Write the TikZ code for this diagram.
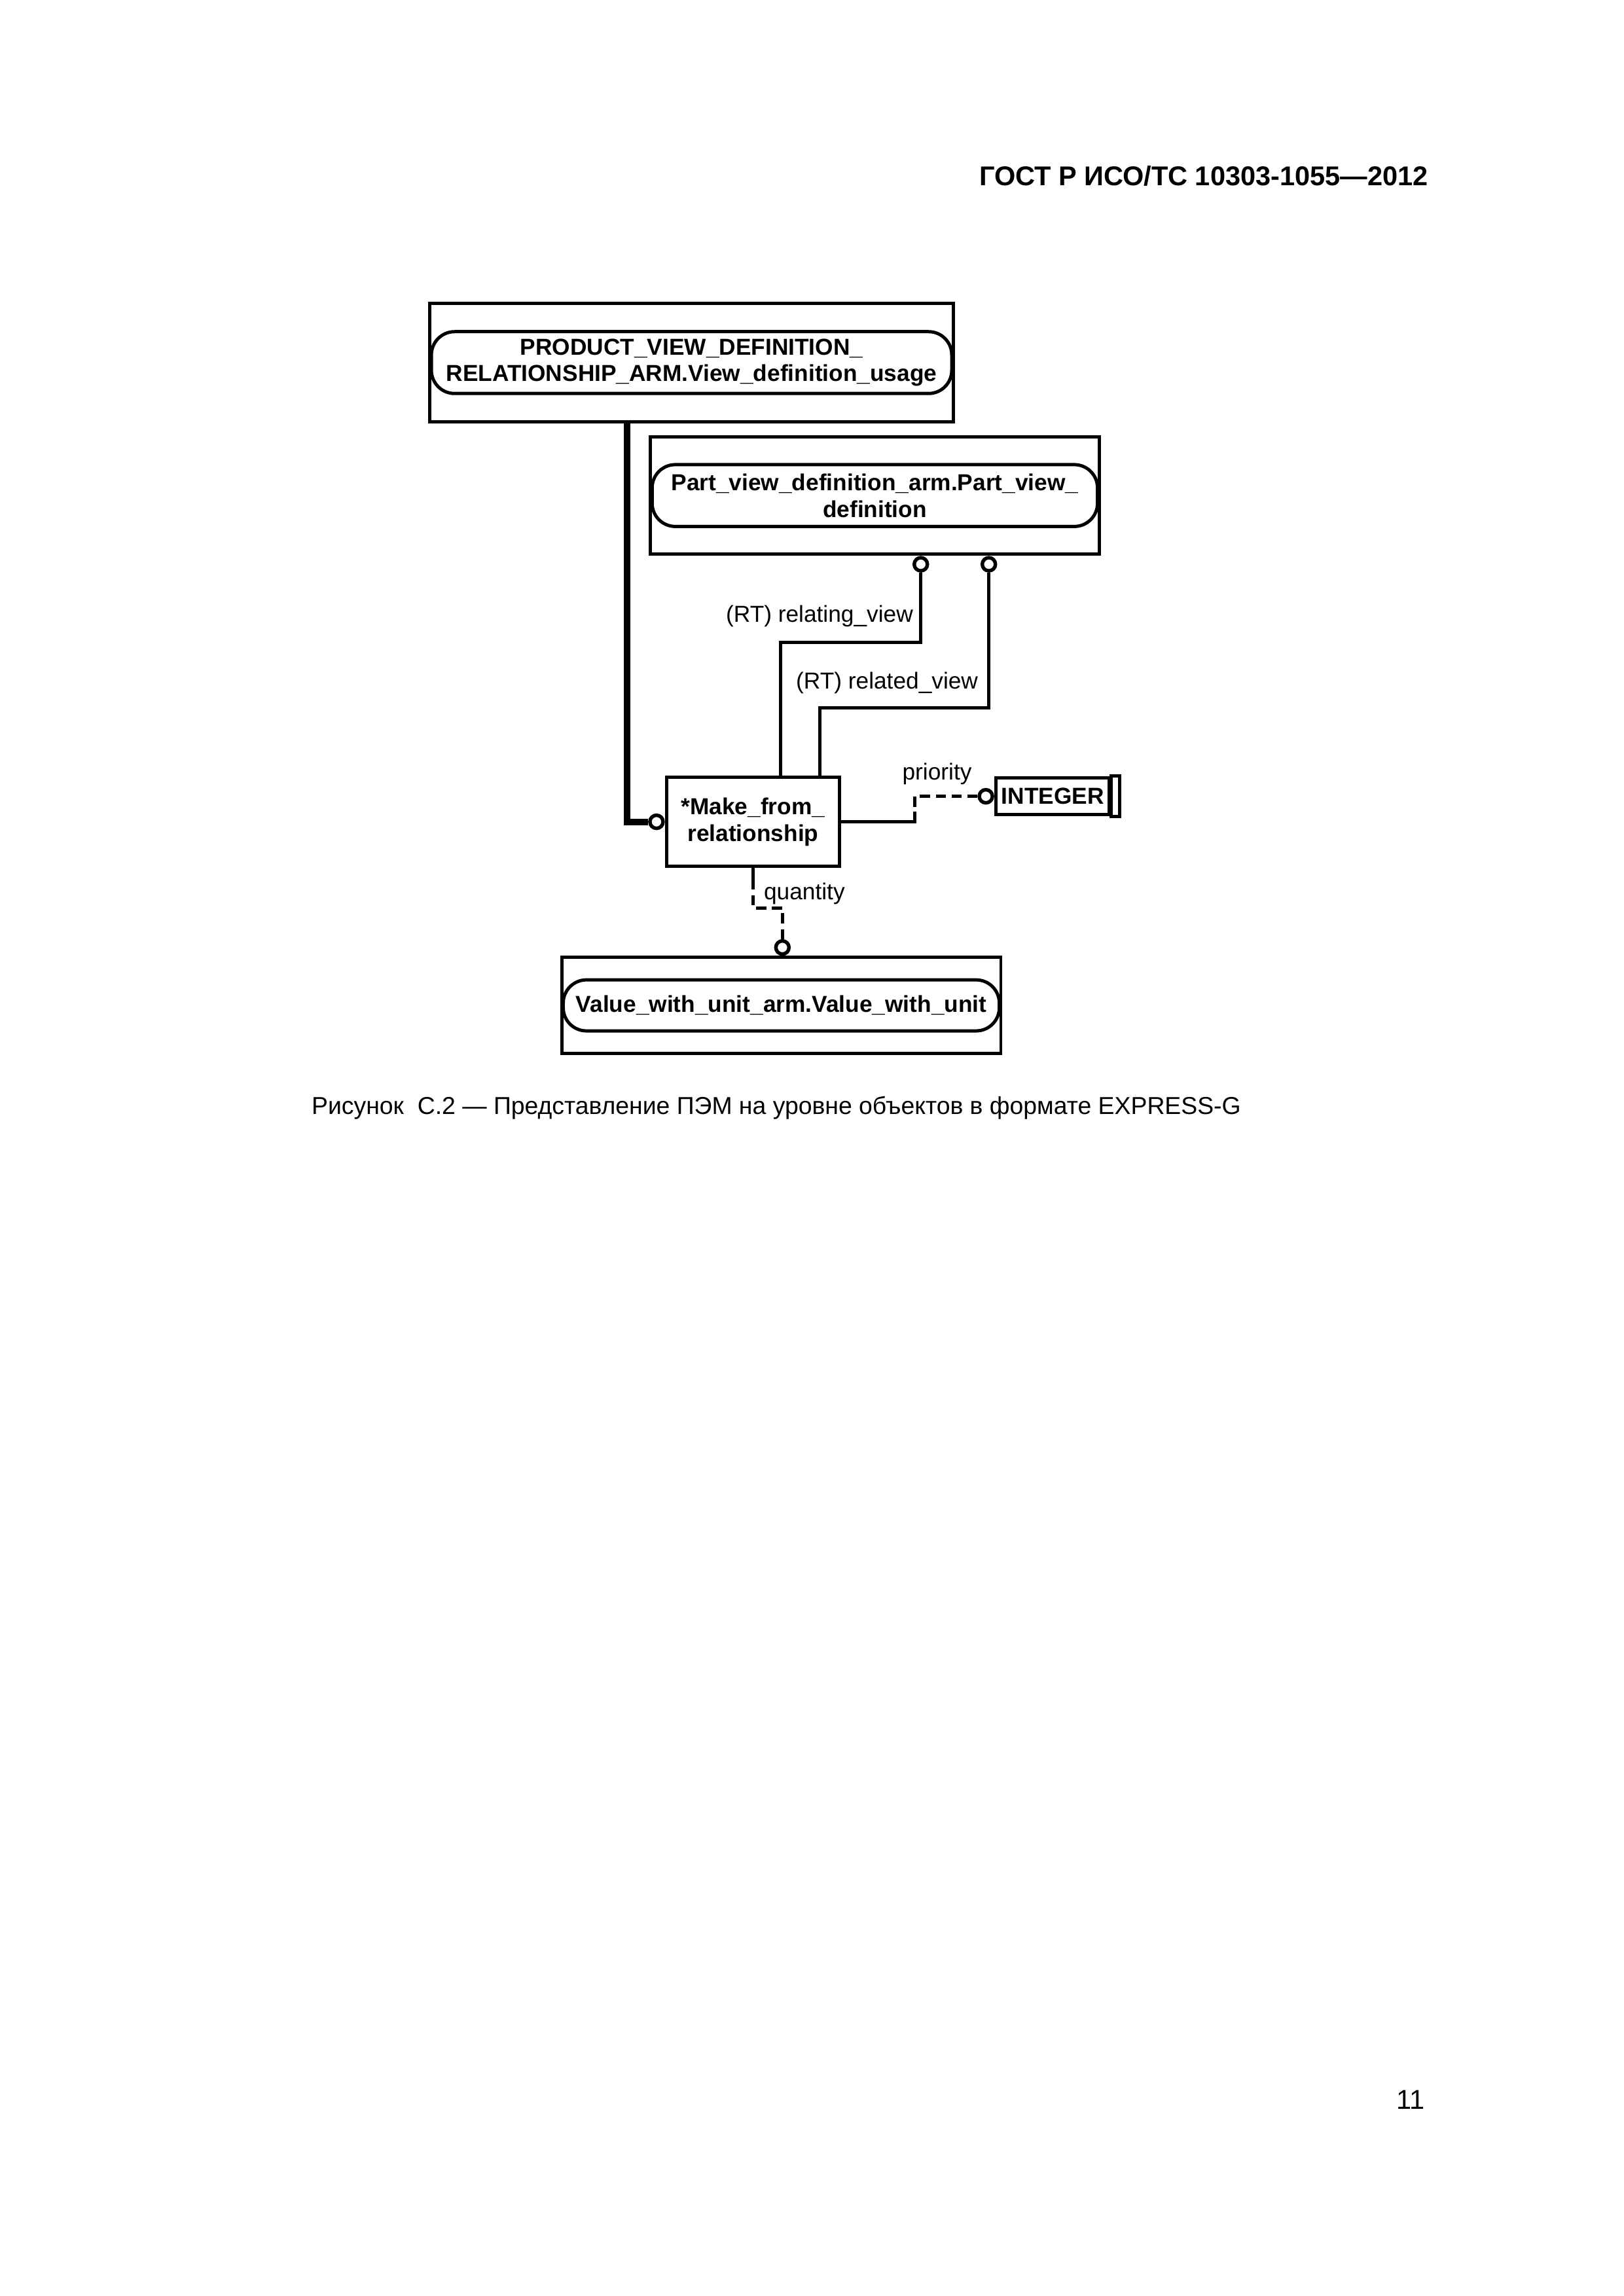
\documentclass[tikz,border=0pt]{standalone}
\usepackage{fontspec}
\setmainfont{Liberation Sans}
\usetikzlibrary{calc}

\begin{document}
\begin{tikzpicture}[x=1mm, y=-1mm, line width=1.2pt,
    ent/.style = {draw, rectangle, inner sep=0pt},
    refname/.style = {draw, rounded corners=3mm, inner sep=0pt, align=center, font=\fontsize{8.5}{9.8}\selectfont\bfseries},
    sel/.style = {draw, rectangle, inner sep=0pt, align=center, font=\fontsize{8.5}{9.8}\selectfont\bfseries},
    ring/.style = {draw, circle, fill=white, inner sep=0pt, minimum size=1.7mm, line width=1.3pt},
    lbl/.style = {inner sep=0pt, font=\fontsize{8.5}{9.8}\selectfont},
    opt/.style = {dash pattern=on 1.3mm off 0.75mm},
    super/.style = {line width=2.4pt}]

    % page
    \fill[white] (0,0) rectangle (210,297);
    \useasboundingbox (0,0) rectangle (210,297);
    \node[anchor=base east, inner sep=0pt, font=\fontsize{10}{12}\selectfont\bfseries] (hdr) at (184.9,24.0) {ГОСТ Р ИСО/ТС 10303-1055—2012};

    % Referenced entities
    \node[ent, minimum width=67.8mm, minimum height=15.3mm] (pvdr) at (89.45,46.9) {};
    \node[refname, minimum width=67.3mm, minimum height=8mm] (pvdrname) at (pvdr.center) {PRODUCT\_VIEW\_DEFINITION\_\\RELATIONSHIP\_ARM.View\_definition\_usage};

    \node[ent, minimum width=58.0mm, minimum height=15.2mm] (pvd) at (113.15,64.1) {};
    \node[refname, minimum width=57.6mm, minimum height=8mm] (pvdname) at (pvd.center) {Part\_view\_definition\_arm.Part\_view\_\\definition};

    \node[ent, minimum width=56.8mm, minimum height=12.4mm] (val) at (101.05,130.05) {};
    \node[refname, minimum width=56.4mm, minimum height=6.6mm] (valname) at (val.center) {Value\_with\_unit\_arm.Value\_with\_unit};

    % Entity and simple type
    \node[sel, minimum width=22.4mm, minimum height=11.5mm] (mf) at (97.4,106.3) {*Make\_from\_\\relationship};
    \node[sel, minimum width=14.7mm, minimum height=4.8mm] (int) at (136.15,103.0) {INTEGER};
    \draw (int.north east) rectangle ([xshift=1.1mm]int.south east);

    % Rings
    \node[ring, anchor=north] (rp1) at ([xshift=5.95mm]pvd.south) {};
    \node[ring, anchor=north] (rp2) at ([xshift=14.75mm]pvd.south) {};
    \node[ring, anchor=east] (rs) at (mf.west) {};
    \node[ring, anchor=east] (ri) at (int.west) {};
    \node[ring, anchor=south] (rq) at ([xshift=0.15mm]val.north) {};

    % Relations
    \draw[super] (rs.west) -| ([xshift=-8.35mm]pvdr.south);
    \draw (rp1.south) -- ++(0,9.0) -| ([xshift=3.6mm]mf.north);
    \draw (rp2.south) -- ++(0,17.5) -| ([xshift=8.6mm]mf.north);

    \coordinate (pk) at (118.3,105.0);
    \draw[opt] (ri.west) -| (pk);
    \draw (pk) |- (mf.east);

    \coordinate (qk) at (97.4,113.7);
    \draw (mf.south) -- (qk);
    \draw[opt] (rq.north) -- ++(0,-4.05) -| (qk);

    % Attribute names
    \node[lbl, anchor=base east] (lrel1) at (118.3,80.5) {(RT) relating\_view};
    \node[lbl, anchor=base east] (lrel2) at (126.7,89.1) {(RT) related\_view};
    \node[lbl, anchor=base] (lpri) at (121.2,100.9) {priority};
    \node[lbl, anchor=base west] (lqty) at (98.6,116.4) {quantity};

    % Caption and page number
    \node[anchor=base west, inner sep=0pt, font=\fontsize{9}{11}\selectfont] (cap) at (40.1,144.1) {Рисунок~~С.2 — Представление ПЭМ на уровне объектов в формате EXPRESS-G};
    \node[anchor=base east, inner sep=0pt, font=\fontsize{10}{12}\selectfont] (pgno) at (184.5,272.8) {11};
\end{tikzpicture}
\end{document}
